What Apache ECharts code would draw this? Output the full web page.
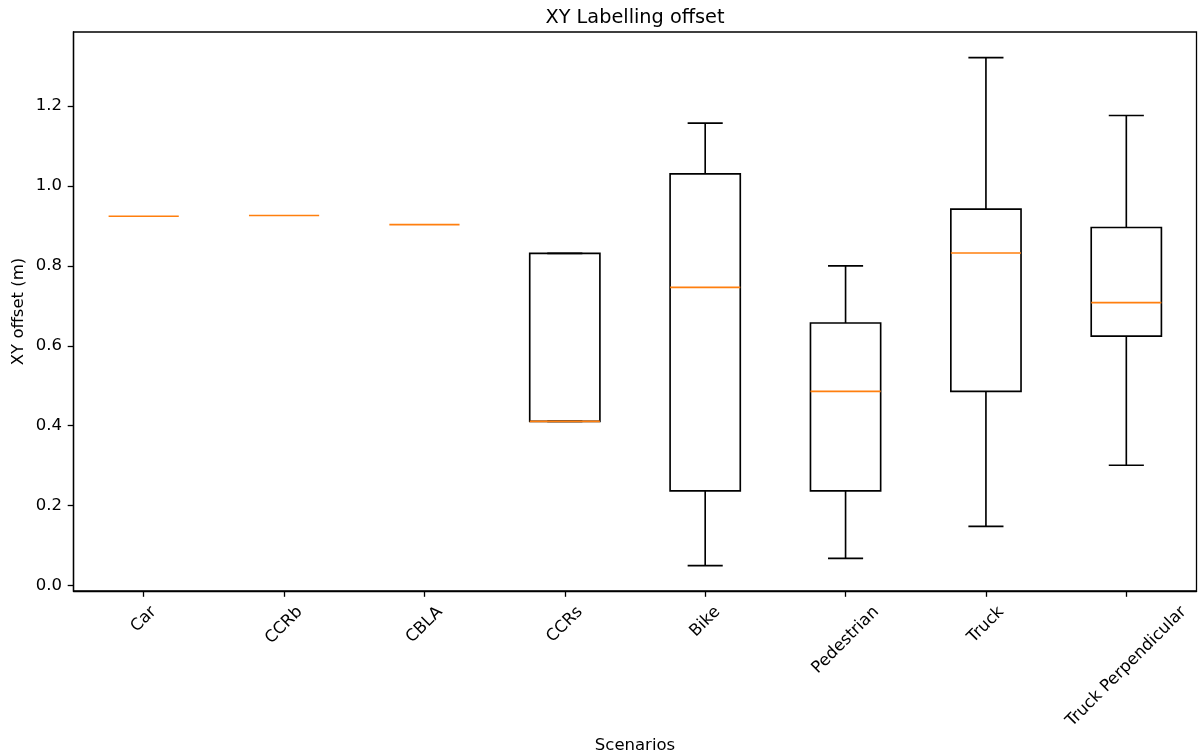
<!DOCTYPE html>
<html>
<head>
<meta charset="utf-8">
<script src="https://cdn.jsdelivr.net/npm/echarts@6/dist/echarts.min.js"></script>
<style>
  html, body { margin: 0; padding: 0; background: #fff; }
  #chart { width: 1199px; height: 755px; }
</style>
</head>
<body>
<div id="chart"></div>
<script>
// ---- Data ----
const categories = ['Car', 'CCRb', 'CBLA', 'CCRs', 'Bike', 'Pedestrian', 'Truck', 'Truck Perpendicular'];
const whiskerLow  = [0.924, 0.926, 0.903, 0.411, 0.050, 0.068, 0.148, 0.301];
const quartile1   = [0.924, 0.926, 0.903, 0.411, 0.237, 0.237, 0.486, 0.624];
const medians     = [0.924, 0.926, 0.903, 0.411, 0.746, 0.486, 0.832, 0.708];
const quartile3   = [0.924, 0.926, 0.903, 0.831, 1.030, 0.657, 0.942, 0.896];
const whiskerHigh = [0.924, 0.926, 0.903, 0.831, 1.157, 0.800, 1.321, 1.176];
const yTicks = [0, 0.2, 0.4, 0.6, 0.8, 1.0, 1.2];

// ---- Style constants ----
const FONT = 'DejaVu Sans';
const TICK_FONT = 16.5;
const TITLE_FONT = 19.3;
const BOX_WIDTH = 0.5;      // fraction of category band
const LW = 1.65;
const MEDIAN_COLOR = '#ff7f0e';

// x tick labels: emulate matplotlib's rotated labels whose bounding box is centred under the tick
const measureCtx = document.createElement('canvas').getContext('2d');
measureCtx.font = TICK_FONT + 'px "' + FONT + '"';
function labelStyle(text) {
  const L = measureCtx.measureText(text).width;
  const h = (L + TICK_FONT * 1.16) * Math.SQRT1_2;
  const D = 1.6 + h / 2;
  const s = D * Math.SQRT2;
  return { align: 'center', verticalAlign: 'top', lineHeight: s, padding: [0, s, 0, 0] };
}
const xAxisData = categories.map(c => ({ value: c, textStyle: labelStyle(c) }));

const boxData = categories.map((c, i) => [i, whiskerLow[i], quartile1[i], medians[i], quartile3[i], whiskerHigh[i]]);

function renderBox(params, api) {
  const i = api.value(0);
  const pLow = api.coord([i, api.value(1)]);
  const pQ1 = api.coord([i, api.value(2)]);
  const pMed = api.coord([i, api.value(3)]);
  const pQ3 = api.coord([i, api.value(4)]);
  const pHigh = api.coord([i, api.value(5)]);
  const band = api.size([1, 0])[0];
  const half = band * BOX_WIDTH / 2;
  const capHalf = half / 2;
  const x = pMed[0];
  const ls = { stroke: '#000', lineWidth: LW, fill: 'none' };
  const children = [];
  const boxH = pQ1[1] - pQ3[1];
  if (boxH > 0.5) {
    children.push(
      { type: 'rect', shape: { x: x - half, y: pQ3[1], width: 2 * half, height: boxH }, style: { stroke: '#000', lineWidth: LW, fill: 'none' } },
      { type: 'line', shape: { x1: x, y1: pQ1[1], x2: x, y2: pLow[1] }, style: ls },
      { type: 'line', shape: { x1: x, y1: pQ3[1], x2: x, y2: pHigh[1] }, style: ls },
      { type: 'line', shape: { x1: x - capHalf, y1: pLow[1], x2: x + capHalf, y2: pLow[1] }, style: ls },
      { type: 'line', shape: { x1: x - capHalf, y1: pHigh[1], x2: x + capHalf, y2: pHigh[1] }, style: ls }
    );
  }
  children.push({ type: 'line', shape: { x1: x - half, y1: pMed[1], x2: x + half, y2: pMed[1] }, style: { stroke: MEDIAN_COLOR, lineWidth: LW, fill: 'none' } });
  return { type: 'group', children: children };
}

const chart = echarts.init(document.getElementById('chart'), null, { renderer: 'canvas' });
chart.setOption({
  animation: false,
  backgroundColor: '#fff',
  title: {
    text: 'XY Labelling offset',
    left: 635,
    top: 8,
    padding: 0,
    textAlign: 'center',
    textStyle: { fontFamily: FONT, fontSize: TITLE_FONT, fontWeight: 'normal', color: '#000' }
  },
  grid: {
    left: 73.5, right: 2.5, top: 32, bottom: 164,
    show: true, borderColor: '#000', borderWidth: 1.3,
    containLabel: false, outerBoundsMode: 'none'
  },
  xAxis: {
    type: 'category',
    data: xAxisData,
    boundaryGap: true,
    name: 'Scenarios',
    nameLocation: 'middle',
    nameGap: 146,
    nameMoveOverlap: false,
    nameTextStyle: { fontFamily: FONT, fontSize: TICK_FONT, color: '#000' },
    axisLine: { show: true, onZero: false, lineStyle: { color: '#000', width: 1.3 } },
    axisTick: { show: true, alignWithLabel: true, length: 5.8, lineStyle: { color: '#000', width: 1.3 } },
    axisLabel: {
      interval: 0, rotate: 45, margin: 10,
      fontFamily: FONT, fontSize: TICK_FONT, color: '#000'
    },
    splitLine: { show: false }
  },
  yAxis: {
    type: 'value',
    min: -0.0135,
    max: 1.385,
    name: 'XY offset (m)',
    nameLocation: 'middle',
    nameGap: 46,
    nameMoveOverlap: false,
    nameTextStyle: { fontFamily: FONT, fontSize: TICK_FONT, color: '#000' },
    axisLine: { show: true, lineStyle: { color: '#000', width: 1.3 } },
    axisTick: { show: true, length: 5.8, customValues: yTicks, lineStyle: { color: '#000', width: 1.3 } },
    axisLabel: {
      customValues: yTicks,
      margin: 11.6,
      fontFamily: FONT, fontSize: TICK_FONT, color: '#000',
      formatter: v => Number(v).toFixed(1)
    },
    splitLine: { show: false }
  },
  series: [{
    type: 'custom',
    silent: true,
    renderItem: renderBox,
    encode: { x: 0, y: [1, 2, 3, 4, 5] },
    data: boxData
  }]
});
</script>
</body>
</html>
